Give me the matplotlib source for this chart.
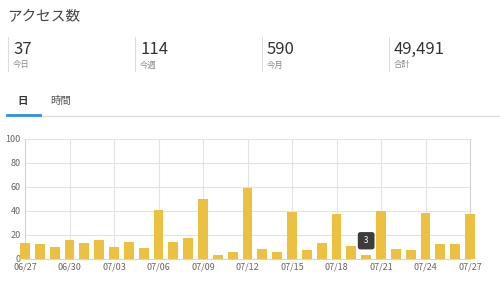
import matplotlib
matplotlib.use("Agg")
import matplotlib.pyplot as plt
from matplotlib.lines import Line2D

plt.rcParams['font.family'] = ['Noto Sans CJK JP', 'DejaVu Sans']

dates = ["06/27", "06/28", "06/29", "06/30", "07/01", "07/02", "07/03", "07/04",
         "07/05", "07/06", "07/07", "07/08", "07/09", "07/10", "07/11", "07/12",
         "07/13", "07/14", "07/15", "07/16", "07/17", "07/18", "07/19", "07/20",
         "07/21", "07/22", "07/23", "07/24", "07/25", "07/26", "07/27"]
visits = [13, 12, 10, 16, 13, 16, 10, 14, 9, 41, 14, 17, 50, 3, 6, 59,
          8, 6, 39, 7, 13, 37, 11, 3, 40, 8, 7, 38, 12, 12, 37]

stat_values = ["37", "114", "590", "49,491"]
stat_labels = ["今日", "今週", "今月", "合計"]
tabs = ["日", "時間"]
tooltip_idx = 23

W, H = 500, 291
fig = plt.figure(figsize=(W / 100, H / 100), dpi=100)


def px(x, y):
    return x / W, 1 - y / H


# header
fig.text(*px(7, 17), "アクセス数", fontsize=10.5, color="#444444", va="center")

for i, (v, lab) in enumerate(zip(stat_values, stat_labels)):
    x0 = 8 + i * 127
    fig.add_artist(Line2D([x0 / W, x0 / W], [1 - 37 / H, 1 - 71 / H],
                          color="#dddddd", lw=0.8))
    fig.text(*px(x0 + 5, 49), v, fontsize=12, color="#333333", va="center")
    fig.text(*px(x0 + 5, 65), lab, fontsize=6, color="#888888", va="center")

# tabs
fig.text(*px(23, 101), tabs[0], fontsize=7.5, color="#333333", va="center",
         ha="center", fontweight="bold")
fig.text(*px(61, 101), tabs[1], fontsize=7.5, color="#555555", va="center",
         ha="center")
fig.add_artist(Line2D([40 / W, 1], [1 - 116 / H] * 2, color="#dddddd", lw=1))
fig.add_artist(Line2D([7 / W, 40 / W], [1 - 115.5 / H] * 2, color="#2f8fe0", lw=2))

# chart
ax = fig.add_axes([25 / W, 1 - 258.7 / H, 445 / W, 119.7 / H])
x = list(range(len(dates)))
ax.bar(x, visits, width=0.67, color="#ecc040", zorder=3, clip_on=False)
ax.set_xlim(0, len(dates) - 1)
ax.set_ylim(0, 100)
ax.set_yticks(range(0, 101, 20))
ax.set_xticks(x[::3])
ax.set_xticklabels(dates[::3])
ax.grid(True, color="#e3e3e3", lw=0.8, zorder=0)
ax.tick_params(length=0, labelsize=6.5, colors="#666666", pad=3)
ax.spines["top"].set_visible(False)
for side in ["left", "right", "bottom"]:
    ax.spines[side].set_color("#d5d5d5")
    ax.spines[side].set_linewidth(0.8)

ax.text(tooltip_idx, 15, " " + str(visits[tooltip_idx]) + " ", color="white",
        fontsize=6, ha="center", va="center", zorder=5,
        bbox=dict(boxstyle="round,pad=0.5,rounding_size=0.3",
                  fc="#3c3c3c", ec="none"))

fig.savefig("out.png", dpi=100)
